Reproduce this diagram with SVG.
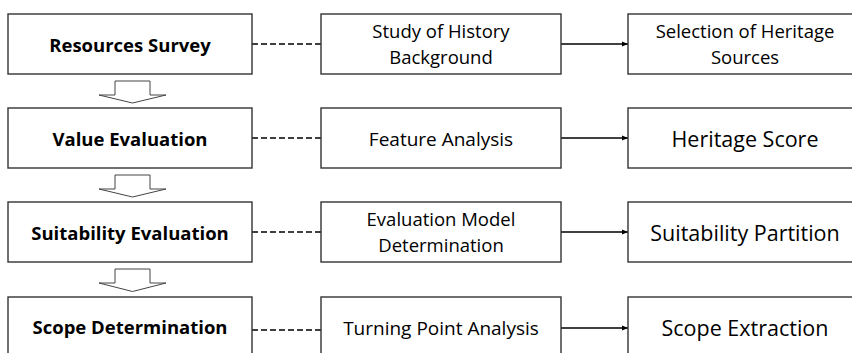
<svg xmlns="http://www.w3.org/2000/svg" width="852" height="353" viewBox="0 0 852 353">
<style>
.box{fill:#fff;stroke:#333;stroke-width:1.4}
.blk{fill:#fff;stroke:#444;stroke-width:1}
.t{font-family:"Open Sans","Noto Sans","Liberation Sans",sans-serif;fill:#000;text-anchor:middle}
.b{font-weight:bold;font-size:18.5px}
.m{font-size:19px}
.m2{font-size:18.5px}
.r{font-size:21.5px}
.dash{stroke:#000;stroke-width:1.3;stroke-dasharray:6,3;fill:none}
.arr{stroke:#000;stroke-width:1.3;fill:none;marker-end:url(#ah)}
</style>
<defs>
<marker id="ah" viewBox="0 0 10 10" refX="10" refY="5" markerWidth="6" markerHeight="6" markerUnits="userSpaceOnUse" orient="auto">
<path d="M0,1 L10,5 L0,9 Z" fill="#000"/>
</marker>
</defs>
<rect width="852" height="353" fill="#fff"/>
<g id="connectors">
<line class="dash" x1="252" y1="44" x2="321" y2="44"/>
<line class="dash" x1="252" y1="138" x2="321" y2="138"/>
<line class="dash" x1="252" y1="232" x2="321" y2="232"/>
<line class="dash" x1="252" y1="330" x2="321" y2="330"/>
<line class="arr" x1="561" y1="44" x2="628" y2="44"/>
<line class="arr" x1="561" y1="138" x2="628" y2="138"/>
<line class="arr" x1="561" y1="232" x2="628" y2="232"/>
<line class="arr" x1="561" y1="328" x2="628" y2="328"/>
<path class="blk" d="M115,81 H150 V95 H166 L132.5,103 L99,95 H115 Z"/>
<path class="blk" d="M115,175 H150 V189 H166 L132.5,197 L99,189 H115 Z"/>
<path class="blk" d="M115,269 H150 V283 H166 L132.5,291.5 L99,283 H115 Z"/>
</g>
<g id="n1"><rect class="box" x="8" y="14" width="244" height="60"/><text class="t b" x="130" y="51.5">Resources Survey</text></g>
<g id="n2"><rect class="box" x="8" y="108" width="244" height="60"/><text class="t b" x="130" y="145.5">Value Evaluation</text></g>
<g id="n3"><rect class="box" x="8" y="202" width="244" height="60"/><text class="t b" x="130" y="239.5">Suitability Evaluation</text></g>
<g id="n4"><rect class="box" x="8" y="297" width="244" height="70"/><text class="t b" x="130" y="334">Scope Determination</text></g>
<g id="m1"><rect class="box" x="321" y="14" width="240" height="60"/><text class="t m2" x="441" y="38.4">Study of History</text><text class="t m2" x="441" y="63.7">Background</text></g>
<g id="m2"><rect class="box" x="321" y="108" width="240" height="60"/><text class="t m" x="441" y="145.5">Feature Analysis</text></g>
<g id="m3"><rect class="box" x="321" y="202" width="240" height="60"/><text class="t m2" x="441" y="226.4">Evaluation Model</text><text class="t m2" x="441" y="251.7">Determination</text></g>
<g id="m4"><rect class="box" x="321" y="297" width="240" height="70"/><text class="t m" x="441" y="335">Turning Point Analysis</text></g>
<g id="r1"><rect class="box" x="628" y="14" width="240" height="60"/><text class="t m2" x="745" y="38.4">Selection of Heritage</text><text class="t m2" x="745" y="63.7">Sources</text></g>
<g id="r2"><rect class="box" x="628" y="108" width="240" height="60"/><text class="t r" x="745" y="146.5">Heritage Score</text></g>
<g id="r3"><rect class="box" x="628" y="202" width="240" height="60"/><text class="t r" x="745" y="240.5">Suitability Partition</text></g>
<g id="r4"><rect class="box" x="628" y="297" width="240" height="70"/><text class="t r" x="745" y="336">Scope Extraction</text></g>
</svg>
